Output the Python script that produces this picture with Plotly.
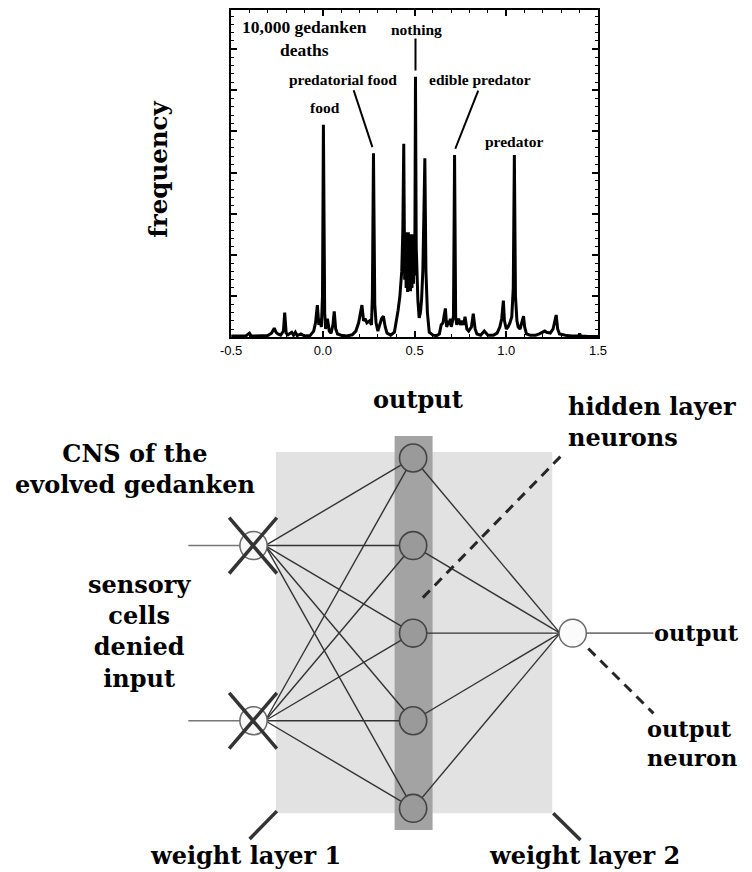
import plotly.graph_objects as go

# the page body keeps an 8px margin, so the figure is 8px smaller than the window
OFF = 8
W, H = 752 - OFF, 872 - OFF

# ---------------- data: frequency distribution of 10,000 gedanken deaths ----------------
x_vals = [
    -0.500, -0.420, -0.400, -0.390, -0.300, -0.280, -0.265, -0.255, -0.245, -0.230,
    -0.215, -0.208, -0.200, -0.190, -0.170, -0.160, -0.150, -0.140, -0.120, -0.100,
    -0.070, -0.050, -0.040, -0.030, -0.022, -0.015, -0.008, -0.002, 0.003, 0.010,
    0.015, 0.025, 0.035, 0.045, 0.055, 0.062, 0.070, 0.080, 0.100, 0.130,
    0.160, 0.180, 0.195, 0.205, 0.213, 0.222, 0.230, 0.240, 0.255, 0.265,
    0.270, 0.276, 0.283, 0.290, 0.300, 0.310, 0.320, 0.330, 0.340, 0.350,
    0.370, 0.390, 0.400, 0.410, 0.420, 0.430, 0.436, 0.441, 0.446, 0.450,
    0.454, 0.458, 0.462, 0.466, 0.470, 0.474, 0.478, 0.482, 0.486, 0.490,
    0.494, 0.498, 0.501, 0.505, 0.509, 0.513, 0.518, 0.525, 0.532, 0.538,
    0.545, 0.550, 0.556, 0.562, 0.570, 0.580, 0.600, 0.620, 0.635, 0.645,
    0.655, 0.662, 0.668, 0.675, 0.685, 0.690, 0.695, 0.700, 0.712, 0.718,
    0.724, 0.730, 0.740, 0.750, 0.760, 0.768, 0.775, 0.785, 0.795, 0.810,
    0.820, 0.830, 0.840, 0.860, 0.880, 0.900, 0.930, 0.950, 0.965, 0.975,
    0.984, 0.990, 1.000, 1.010, 1.020, 1.030, 1.038, 1.044, 1.050, 1.058,
    1.065, 1.075, 1.085, 1.094, 1.100, 1.110, 1.130, 1.160, 1.180, 1.200,
    1.210, 1.220, 1.240, 1.255, 1.265, 1.272, 1.280, 1.290, 1.310, 1.330,
    1.360, 1.395, 1.400, 1.405, 1.450, 1.500,
]
freq_vals = [
    0.03, 0.03, 0.10, 0.03, 0.04, 0.10, 0.22, 0.12, 0.08, 0.05,
    0.15, 0.60, 0.10, 0.06, 0.12, 0.05, 0.12, 0.04, 0.08, 0.03,
    0.04, 0.15, 0.35, 0.78, 0.30, 0.45, 0.25, 1.00, 5.16, 0.60,
    0.20, 0.45, 0.15, 0.10, 0.30, 0.63, 0.20, 0.08, 0.05, 0.03,
    0.06, 0.15, 0.35, 0.55, 0.78, 0.40, 0.45, 0.35, 0.40, 0.30,
    1.00, 4.47, 0.80, 0.35, 0.15, 0.30, 0.45, 0.51, 0.25, 0.10,
    0.05, 0.12, 0.35, 0.65, 1.00, 1.60, 2.60, 4.70, 1.40, 2.55,
    1.20, 2.50, 1.10, 2.55, 1.25, 2.45, 1.12, 2.50, 1.20, 2.50,
    1.30, 2.40, 1.50, 6.33, 2.20, 1.30, 0.90, 0.47, 0.60, 0.90,
    1.60, 2.80, 4.35, 1.60, 0.60, 0.12, 0.05, 0.04, 0.08, 0.30,
    0.35, 0.55, 0.70, 0.25, 0.40, 0.30, 0.45, 0.25, 0.50, 4.43,
    0.50, 0.30, 0.45, 0.30, 0.40, 0.30, 0.50, 0.20, 0.15, 0.25,
    0.57, 0.20, 0.08, 0.05, 0.15, 0.05, 0.05, 0.10, 0.25, 0.45,
    0.89, 0.40, 0.20, 0.25, 0.35, 0.50, 1.20, 4.43, 1.00, 0.40,
    0.25, 0.20, 0.35, 0.51, 0.25, 0.08, 0.05, 0.05, 0.08, 0.12,
    0.15, 0.12, 0.10, 0.20, 0.40, 0.54, 0.20, 0.08, 0.06, 0.04,
    0.03, 0.03, 0.09, 0.03, 0.02, 0.02,
]

peak_names = ["food", "predatorial food", "nothing", "edible predator", "predator"]
peak_x = [0.003, 0.276, 0.505, 0.718, 1.044]

x_tick_vals = [-0.5, 0.0, 0.5, 1.0, 1.5]
x_tick_text = ["-0.5", "0.0", "0.5", "1.0", "1.5"]
y_title = "frequency"
count_label = "10,000 gedanken<br>deaths"

# ---------------- data: network of the evolved gedanken ----------------
layer_sizes = [2, 5, 1]          # sensory cells, hidden layer, output neuron
diagram_labels = {
    "top": "output",
    "hidden": "hidden layer<br>neurons",
    "cns": "CNS of the<br>evolved gedanken",
    "sensory": "sensory<br>cells<br>denied<br>input",
    "out": "output",
    "out_neuron": "output<br>neuron",
    "w1": "weight layer 1",
    "w2": "weight layer 2",
}

# ---------------- helpers (window pixel -> paper) ----------------
def PX(x):
    return (x - OFF) / W

def PY(y):
    return min(1.0, max(0.0, 1 - (y - OFF) / H))

SERIF_T = "Liberation Serif"
SERIF_C = "DejaVu Serif"

fig = go.Figure()
fig.add_trace(go.Scatter(
    x=x_vals, y=freq_vals, mode="lines",
    line=dict(color="black", width=3), showlegend=False, hoverinfo="skip",
))

annotations = []
shapes = []

def text(t, x, y, size, family, xanchor="center", align="center", angle=0):
    annotations.append(dict(
        text="<b>" + t.replace("<br>", "</b><br><b>") + "</b>",
        x=PX(x), y=PY(y), xref="paper", yref="paper", showarrow=False,
        xanchor=xanchor, yanchor="middle", align=align, textangle=angle,
        font=dict(family=family, size=size, color="black"),
    ))

def pline(x0, y0, x1, y1, color, width, dash=None):
    ln = dict(color=color, width=width)
    if dash:
        ln["dash"] = dash
    shapes.append(dict(type="line", xref="paper", yref="paper",
                       x0=PX(x0), y0=PY(y0), x1=PX(x1), y1=PY(y1), line=ln))

def prect(x0, y0, x1, y1, fill):
    shapes.append(dict(type="rect", xref="paper", yref="paper",
                       x0=PX(x0), y0=PY(y0), x1=PX(x1), y1=PY(y1),
                       fillcolor=fill, line=dict(width=0)))

def pcircle(cx, cy, r, fill, lc, lw):
    shapes.append(dict(type="circle", xref="paper", yref="paper",
                       x0=PX(cx - r), y0=PY(cy + r), x1=PX(cx + r), y1=PY(cy - r),
                       fillcolor=fill, line=dict(color=lc, width=lw)))

# ---------------- top chart labels ----------------
peak_y = [freq_vals[x_vals.index(p)] for p in peak_x]
top_lbl_pos = {
    "food": (322, 106), "predatorial food": (341, 78), "nothing": (416, 28),
    "edible predator": (482, 78), "predator": (517, 140),
}
for name in peak_names:
    px_, py_ = top_lbl_pos[name]
    text(name, px_, py_, 15.5, SERIF_T)
text(count_label, 301, 37, 17.5, SERIF_T)
text(y_title, 151, 168, 24.5, SERIF_C, angle=-90)

# leader lines (data coords of the chart)
leaders = {
    "predatorial food": (0.168, 6.00, -0.006),
    "nothing": (0.505, 7.26, 0.0),
    "edible predator": (0.847, 5.99, 0.004),
}
for name, (lx, ly, dx) in leaders.items():
    i = peak_names.index(name)
    shapes.append(dict(type="line", xref="x", yref="y",
                       x0=lx, y0=ly, x1=peak_x[i] + dx, y1=peak_y[i] + 0.15,
                       line=dict(color="black", width=2)))

# ---------------- network diagram ----------------
prect(272, 451, 556, 813, "#e2e2e2")
prect(394, 435, 433, 830, "#a3a3a3")

in_x, hid_x, out_x = 249, 413, 577
hid_top, hid_step = 457, 87.8
hid_y = [hid_top + i * hid_step for i in range(layer_sizes[1])]
in_y = [hid_y[1], hid_y[3]][:layer_sizes[0]]
out_y = [hid_y[2]][:layer_sizes[2]]
R = 14

# weight layer 1 connections
for iy in in_y:
    for hy in hid_y:
        pline(in_x + R - 2, iy, hid_x, hy, "#333333", 1.4)
# weight layer 2 connections
for hy in hid_y:
    for oy in out_y:
        pline(hid_x, hy, out_x - R + 1, oy, "#333333", 1.4)
# input and output wires
for iy in in_y:
    pline(182, iy, in_x, iy, "#777777", 1.6)
for oy in out_y:
    pline(out_x + R, oy, 660, oy, "#777777", 1.6)

for hy in hid_y:
    pcircle(hid_x, hy, R, "#9a9a9a", "#444444", 1.6)
for iy in in_y:
    pcircle(in_x, iy, R, "#f7f7f7", "#6a6a6a", 1.5)
for oy in out_y:
    pcircle(out_x, oy, R, "#fbfbfb", "#6a6a6a", 1.5)

# crosses: sensory cells denied input
for iy in in_y:
    pline(in_x - 25, iy - 28, in_x + 24, iy + 28, "#333333", 3.5)
    pline(in_x - 25, iy + 28, in_x + 24, iy - 28, "#333333", 3.5)

# pointer lines
pline(423, 597, 565, 455, "#262626", 3, "10px,7px")
pline(593, 648, 660, 713, "#262626", 3, "10px,7px")
pline(273, 811, 245, 839, "#333333", 3.5)
pline(557, 813, 585, 840, "#333333", 3.5)

# diagram text
FS = 24
FS_R = 22.5
text(diagram_labels["top"], 418, 398, FS, SERIF_C)
text(diagram_labels["hidden"], 570, 421, FS, SERIF_C, xanchor="left", align="left")
text(diagram_labels["cns"], 127, 468, FS, SERIF_C)
text(diagram_labels["sensory"], 132, 631, FS, SERIF_C)
text(diagram_labels["out"], 658, 632, FS_R, SERIF_C, xanchor="left")
text(diagram_labels["out_neuron"], 651, 743, FS_R, SERIF_C, xanchor="left", align="left")
text(diagram_labels["w1"], 241, 855, FS, SERIF_C)
text(diagram_labels["w2"], 589, 855, FS, SERIF_C)

# frame spans window y 8..336 (top clipped by the page margin); keep 41.25 px per unit
y_top = (336 - OFF) / 41.25

fig.update_layout(
    width=W, height=H,
    margin=dict(l=0, r=0, t=0, b=0),
    paper_bgcolor="white", plot_bgcolor="white",
    showlegend=False,
    annotations=annotations,
    shapes=shapes,
    xaxis=dict(
        domain=[PX(226), PX(603)], range=[-0.5, 1.5],
        tickvals=x_tick_vals, ticktext=x_tick_text,
        ticks="inside", ticklen=6, tickwidth=1.5, tickcolor="black",
        minor=dict(dtick=0.1, ticks="inside", ticklen=3, tickwidth=1.2, tickcolor="black"),
        showline=True, linecolor="black", linewidth=2, mirror="allticks",
        showgrid=False, zeroline=False,
        tickfont=dict(family="Liberation Sans", size=13, color="black"),
        fixedrange=True,
    ),
    yaxis=dict(
        domain=[PY(336), 1.0], range=[0, y_top],
        dtick=1, tick0=0, showticklabels=False,
        ticks="inside", ticklen=6, tickwidth=1.5, tickcolor="black",
        minor=dict(dtick=0.2, ticks="inside", ticklen=3, tickwidth=1.2, tickcolor="black"),
        showline=True, linecolor="black", linewidth=2, mirror="allticks",
        showgrid=False, zeroline=False, fixedrange=True,
    ),
)

fig.write_html("out.html")
